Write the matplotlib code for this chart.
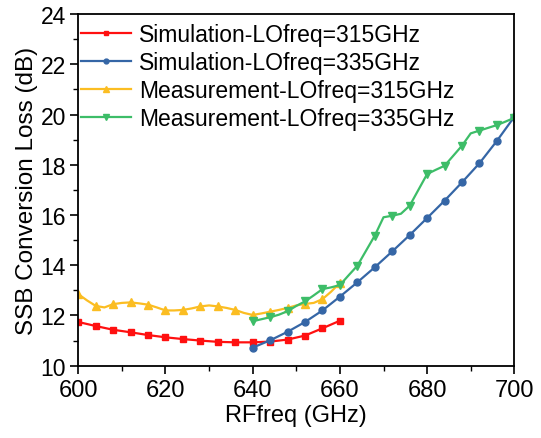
import numpy as np
import matplotlib
matplotlib.use('Agg')
import matplotlib.pyplot as plt
from matplotlib.ticker import MultipleLocator

plt.rcParams['font.family'] = ['Liberation Sans', 'DejaVu Sans']

# Simulation data (4 GHz step)
sim_f = [600, 604, 608, 612, 616, 620, 624, 628, 632, 636, 640, 644, 648, 652, 656, 660]
sim_315 = [11.74, 11.58, 11.43, 11.33, 11.22, 11.13, 11.06, 11.00, 10.95, 10.93,
           10.93, 10.96, 11.04, 11.20, 11.49, 11.79]
sim_335_f = [640, 644, 648, 652, 656, 660, 664, 668, 672, 676, 680, 684, 688, 692, 696, 700]
sim_335 = [10.72, 11.01, 11.35, 11.74, 12.20, 12.75, 13.32, 13.92, 14.55, 15.20,
           15.88, 16.57, 17.30, 18.06, 18.95, 19.91]

# Measurement data (2 GHz step)
meas_315_f = list(range(600, 662, 2))
meas_315 = [12.85, 12.60, 12.38, 12.32, 12.45, 12.50, 12.52, 12.48, 12.43, 12.32,
            12.20, 12.20, 12.22, 12.28, 12.36, 12.40, 12.36, 12.30, 12.22, 12.10,
            12.02, 12.08, 12.15, 12.22, 12.30, 12.40, 12.46, 12.50, 12.65, 12.95, 13.30]
meas_335_f = list(range(640, 702, 2))
meas_335 = [11.77, 11.85, 11.93, 12.03, 12.17, 12.38, 12.56, 12.80, 13.05, 13.12,
            13.21, 13.60, 13.98, 14.58, 15.18, 15.91, 15.97, 16.05, 16.37, 17.00,
            17.63, 17.80, 17.96, 18.36, 18.76, 19.25, 19.36, 19.47, 19.58, 19.72, 19.87]

fig = plt.figure(figsize=(5.41, 4.39), dpi=100)
ax = fig.add_axes([0.1447, 0.1647, 0.806, 0.801])

ax.plot(sim_f, sim_315, color='#ff1010', marker='s', ms=4.5, lw=1.6,
        label='Simulation-LOfreq=315GHz')
ax.plot(sim_335_f, sim_335, color='#3566a6', marker='o', ms=5, lw=1.6,
        label='Simulation-LOfreq=335GHz')
ax.plot(meas_315_f, meas_315, color='#fbbd22', marker='^', ms=5.5, lw=1.6,
        markevery=2, label='Measurement-LOfreq=315GHz')
ax.plot(meas_335_f, meas_335, color='#3dbd68', marker='v', ms=5.5, lw=1.6,
        markevery=2, label='Measurement-LOfreq=335GHz')

ax.set_xlim(600, 700)
ax.set_ylim(10, 24)
ax.xaxis.set_major_locator(MultipleLocator(20))
ax.xaxis.set_minor_locator(MultipleLocator(10))
ax.yaxis.set_major_locator(MultipleLocator(2))
ax.yaxis.set_minor_locator(MultipleLocator(1))
ax.tick_params(which='major', direction='out', length=6, width=1.2, labelsize=17)
ax.tick_params(axis='y', which='major', labelsize=16.5, pad=3)
ax.tick_params(which='minor', direction='out', length=3.5, width=1.0)
for s in ax.spines.values():
    s.set_linewidth(1.3)

ax.set_xlabel('RFfreq (GHz)', fontsize=17, labelpad=2)
ax.set_ylabel('SSB Conversion Loss (dB)', fontsize=17.5, labelpad=2)

ax.legend(loc='upper left', frameon=False, fontsize=16.5, handlelength=2.2,
          handletextpad=0.35, labelspacing=0.22, borderaxespad=0.0, borderpad=0.1,
          bbox_to_anchor=(0.0, 0.982), markerscale=0.7)

fig.savefig('out.png', dpi=100)
